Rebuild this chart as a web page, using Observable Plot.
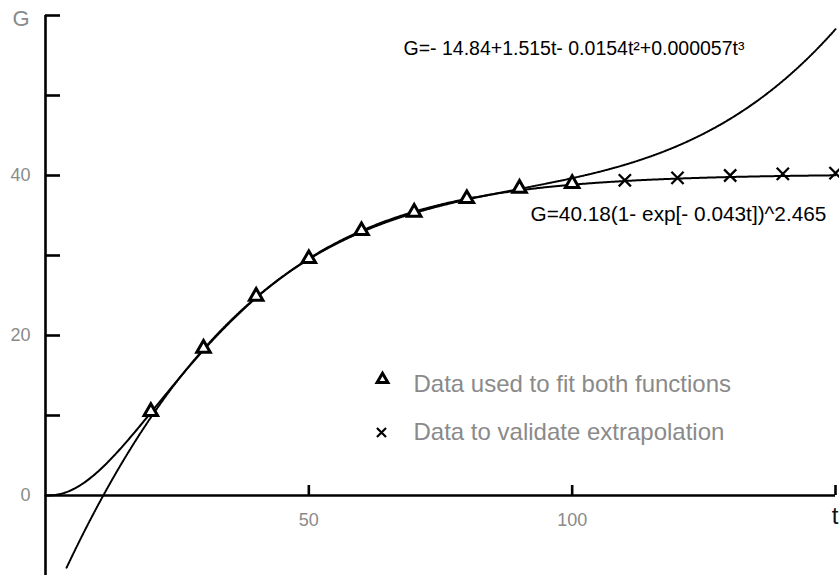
<!DOCTYPE html>
<html>
<head>
<meta charset="utf-8">
<script src="https://cdn.jsdelivr.net/npm/d3@7"></script>
<script src="https://cdn.jsdelivr.net/npm/@observablehq/plot@0.6"></script>
<style>
  html, body { margin: 0; padding: 0; background: #fff; }
  #chart svg { display: block; }
</style>
</head>
<body>
<div id="chart"></div>
<script>
// Observations used to fit both growth functions
const fitT = [20, 30, 40, 50, 60, 70, 80, 90, 100];
const fitG = [10.5, 18.4, 24.9, 29.6, 33.1, 35.4, 37.1, 38.4, 39.0];

// Later observations held back to check the extrapolation
const checkT = [110, 120, 130, 140, 150];
const checkG = [39.4, 39.7, 40.0, 40.2, 40.3];

// Fitted models, as printed on the chart
const polyCoef = [-14.84, 1.515, -0.0154, 0.000057];   // cubic polynomial
const expParams = [40.18, 0.043, 2.465];               // a(1 - exp[-k t])^p
const polyLabel = "G=- 14.84+1.515t- 0.0154t²+0.000057t³";
const expLabel = "G=40.18(1- exp[- 0.043t])^2.465";

// Axes
const yTicks = [10, 20, 30, 40, 50, 60];
const yTickLabels = [0, 20, 40];
const xTicks = [50, 100, 150];
const xTickLabels = [50, 100];
const yName = "G";
const xName = "t";

// Legend entries
const legendFit = "Data used to fit both functions";
const legendCheck = "Data to validate extrapolation";

const poly = t => polyCoef.reduce((s, c, i) => s + c * t ** i, 0);
const [ea, ek, ep] = expParams;
const expModel = t => ea * (1 - Math.exp(-ek * t)) ** ep;

const tGrid = d3.range(0, 150.001, 0.25);
const polyCurve = tGrid.map(t => ({t, g: poly(t)})).filter(d => d.g >= -9.3);
const expCurve = tGrid.map(t => ({t, g: expModel(t)}));
const fitData = fitT.map((t, i) => ({t, g: fitG[i]}));
const checkData = checkT.map((t, i) => ({t, g: checkG[i]}));

const grey = "#8a8a8a";
const axisW = 2.6;

const chart = Plot.plot({
  width: 839,
  height: 575,
  marginLeft: 45,
  marginRight: 4,
  marginTop: 15,
  marginBottom: 0,
  x: {domain: [0, 150], axis: null},
  y: {domain: [-10, 60], axis: null},
  style: {fontFamily: "'Liberation Sans', Arial, sans-serif", background: "#fff", overflow: "visible"},
  marks: [
    // axis lines
    Plot.ruleY([0], {stroke: "#000", strokeWidth: axisW}),
    Plot.ruleX([0], {stroke: "#000", strokeWidth: axisW}),
    // inward ticks
    Plot.ruleY(yTicks, {y: d => d, x1: 0, x2: 0, insetRight: -15, stroke: "#000", strokeWidth: axisW}),
    Plot.ruleX(xTicks, {x: d => d, y1: 0, y2: 0, insetBottom: 10, stroke: "#000", strokeWidth: axisW}),
    // tick labels
    Plot.text(yTickLabels, {x: 0, y: d => d, text: d => String(d), dx: -15, textAnchor: "end", fill: grey, fontSize: 18}),
    Plot.text([yName], {x: 0, y: 60, text: d => d, dx: -16, dy: 3, textAnchor: "end", fill: grey, fontSize: 22}),
    Plot.text(xTickLabels, {x: d => d, y: 0, text: d => String(d), dy: 25, fill: grey, fontSize: 18}),
    Plot.text([xName], {x: 150, y: 0, text: d => d, dy: 21, textAnchor: "end", dx: 3, fill: "#111", fontSize: 24}),
    // fitted curves
    Plot.line(polyCurve, {x: "t", y: "g", stroke: "#000", strokeWidth: 2, strokeDasharray: "1.3,1.3"}),
    Plot.line(expCurve, {x: "t", y: "g", stroke: "#000", strokeWidth: 2}),
    // observations
    Plot.dot(fitData, {x: "t", y: "g", symbol: "triangle", r: 5, stroke: "#000", strokeWidth: 3, fill: "#fff"}),
    Plot.dot(checkData, {x: "t", y: "g", symbol: "times", r: 5.6, stroke: "#000", strokeWidth: 2.3}),
    // curve equations
    Plot.text([polyLabel], {frameAnchor: "top-left", dx: 358, dy: 33, text: d => d, textAnchor: "start", lineAnchor: "middle", fill: "#000", fontSize: 19.5}),
    Plot.text([expLabel], {frameAnchor: "top-left", dx: 485, dy: 199, text: d => d, textAnchor: "start", lineAnchor: "middle", fill: "#000", fontSize: 20.8}),
    // legend
    Plot.dot([legendFit], {frameAnchor: "top-left", dx: 337, dy: 364, symbol: "triangle", r: 4, stroke: "#000", strokeWidth: 3, fill: "#fff"}),
    Plot.text([legendFit], {frameAnchor: "top-left", dx: 368, dy: 369, text: d => d, textAnchor: "start", lineAnchor: "middle", fill: grey, fontSize: 24}),
    Plot.dot([legendCheck], {frameAnchor: "top-left", dx: 336, dy: 417, symbol: "times", r: 4.2, stroke: "#000", strokeWidth: 2.2}),
    Plot.text([legendCheck], {frameAnchor: "top-left", dx: 368, dy: 417, text: d => d, textAnchor: "start", lineAnchor: "middle", fill: grey, fontSize: 24})
  ]
});

document.getElementById("chart").append(chart);
</script>
</body>
</html>
